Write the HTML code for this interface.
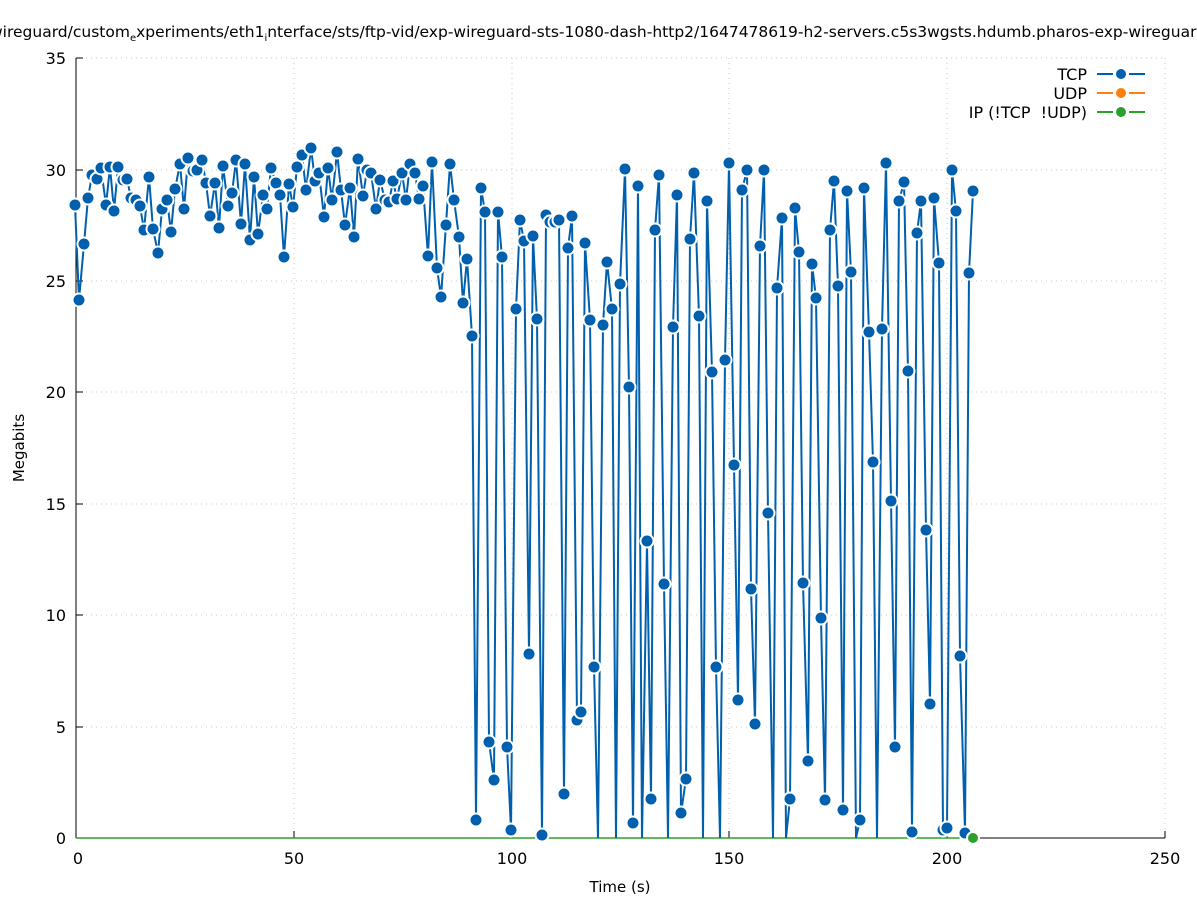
<!DOCTYPE html>
<html><head><meta charset="utf-8"><style>
html,body{margin:0;padding:0;background:#fff}
svg{display:block;font-family:"DejaVu Sans","Liberation Sans",sans-serif}
</style></head><body>
<svg id="s" width="1197" height="900" viewBox="0 0 1197 900" xmlns="http://www.w3.org/2000/svg">
<rect width="1197" height="900" fill="#fff"/>
<g stroke="#c8c8c8" stroke-width="1" stroke-dasharray="1,4">
<line x1="76" y1="727" x2="1165" y2="727"/><line x1="76" y1="615" x2="1165" y2="615"/>
<line x1="76" y1="504" x2="1165" y2="504"/><line x1="76" y1="392" x2="1165" y2="392"/>
<line x1="76" y1="281" x2="1165" y2="281"/><line x1="76" y1="170" x2="1165" y2="170"/>
<line x1="76" y1="58" x2="1165" y2="58"/><line x1="1165" y1="58" x2="1165" y2="838"/>
<line x1="294" y1="58" x2="294" y2="838"/><line x1="512" y1="58" x2="512" y2="838"/>
<line x1="729" y1="58" x2="729" y2="838"/><line x1="947" y1="58" x2="947" y2="838"/>
</g>
<g stroke="#000" stroke-width="1">
<line x1="76" y1="58" x2="76" y2="838"/><line x1="76" y1="838" x2="1165" y2="838"/>
<line x1="76" y1="727" x2="83" y2="727"/><line x1="76" y1="615" x2="83" y2="615"/><line x1="76" y1="504" x2="83" y2="504"/><line x1="76" y1="392" x2="83" y2="392"/><line x1="76" y1="281" x2="83" y2="281"/><line x1="76" y1="170" x2="83" y2="170"/><line x1="76" y1="58" x2="83" y2="58"/>
<line x1="294" y1="838" x2="294" y2="831"/><line x1="512" y1="838" x2="512" y2="831"/><line x1="729" y1="838" x2="729" y2="831"/><line x1="947" y1="838" x2="947" y2="831"/><line x1="1165" y1="838" x2="1165" y2="831"/>
</g>
<g font-size="16" fill="#000" text-anchor="end">
<text x="66" y="844">0</text><text x="66" y="733">5</text><text x="66" y="621">10</text><text x="66" y="510">15</text><text x="66" y="398">20</text><text x="66" y="287">25</text><text x="66" y="176">30</text><text x="66" y="64">35</text>
</g>
<g font-size="16" fill="#000" text-anchor="middle">
<text x="78" y="864">0</text><text x="294" y="864">50</text><text x="512" y="864">100</text><text x="729" y="864">150</text><text x="947" y="864">200</text><text x="1165" y="864">250</text>
<text x="620" y="892" font-size="15">Time (s)</text>
<text x="598" y="37" font-size="15.5">wireguard/custom<tspan font-size="10" dy="4">e</tspan><tspan dy="-4">xperiments/eth1</tspan><tspan font-size="10" dy="4">i</tspan><tspan dy="-4">nterface/sts/ftp-vid/exp-wireguard-sts-1080-dash-http2/1647478619-h2-servers.c5s3wgsts.hdumb.pharos-exp-wireguard</tspan></text>
</g>
<text transform="translate(24,448) rotate(-90)" font-size="15" text-anchor="middle">Megabits</text>
<g font-size="16" text-anchor="end">
<text x="1087" y="80">TCP</text><text x="1087" y="99">UDP</text><text x="1087" y="118">IP (!TCP &#160;!UDP)</text>
</g>
<g stroke-width="2">
<path d="M1097 74H1113M1129 74H1145" stroke="#0060ad"/><circle cx="1121" cy="74" r="6" fill="#0060ad" stroke="#fff" stroke-width="2"/>
<path d="M1097 93H1113M1129 93H1145" stroke="#ff7f0e"/><circle cx="1121" cy="93" r="6" fill="#ff7f0e" stroke="#fff" stroke-width="2"/>
<path d="M1097 112H1113M1129 112H1145" stroke="#2ca02c"/><circle cx="1121" cy="112" r="6" fill="#2ca02c" stroke="#fff" stroke-width="2"/>
</g>
<line x1="76" y1="838" x2="973" y2="838" stroke="#2ca02c" stroke-width="1.5"/>
<g id="d"></g>
<circle cx="973" cy="838" r="6" fill="#2ca02c" stroke="#fff" stroke-width="2"/>
</svg>
<script>
var p=[75,205,79,300,84,244,88,198,92,175,97,179,101,168,106,205,110,167,114,211,118,167,123,180,127,179,131,198,136,200,140,206,144,230,149,177,153,229,158,253,162,209,167,200,171,232,175,189,180,164,184,209,188,158,193,171,197,170,202,160,206,183,210,216,215,183,219,228,223,166,228,206,232,193,236,160,241,224,245,164,250,240,254,177,258,234,263,195,267,209,271,168,276,183,280,195,284,257,289,184,293,207,297,167,302,155,306,190,311,148,315,181,319,173,324,217,328,168,332,200,337,152,341,190,345,225,350,188,354,237,358,159,363,196,367,170,371,173,376,209,380,180,385,200,389,202,393,181,397,199,402,173,406,200,410,164,415,173,419,199,423,186,428,256,432,162,437,268,441,297,446,225,450,164,454,200,459,237,463,303,467,259,472,336,476,820,481,188,485,212,489,742,494,780,498,212,502,257,507,747,511,830,516,309,520,220,524,241,529,654,533,236,537,319,542,835,546,215,550,222,555,222,559,220,564,794,568,248,572,216,577,720,581,712,585,243,590,320,594,667,598,838,603,325,607,262,612,309,616,838,620,284,625,169,629,387,633,823,638,186,642,838,647,541,651,799,655,230,659,175,664,584,668,838,673,327,677,195,681,813,686,779,690,239,694,173,699,316,703,838,707,201,712,372,716,667,720,838,725,360,729,163,734,465,738,700,742,190,747,170,751,589,755,724,760,246,764,170,768,513,773,838,777,288,782,218,786,838,790,799,795,208,799,252,803,583,808,761,812,264,816,298,821,618,825,800,830,230,834,181,838,286,843,810,847,191,851,272,856,838,860,820,864,188,869,332,873,462,877,838,882,329,886,163,891,501,895,747,899,201,904,182,908,371,912,832,917,233,921,201,926,530,930,704,934,198,939,263,943,830,947,828,952,170,956,211,960,656,965,833,969,273,973,191];
var ns="http://www.w3.org/2000/svg",g=document.getElementById('d'),pts=[];
for(var i=0;i<p.length;i+=2)pts.push(p[i]+','+p[i+1]);
var pl=document.createElementNS(ns,'polyline');pl.setAttribute('points',pts.join(' '));pl.setAttribute('fill','none');pl.setAttribute('stroke','#0060ad');pl.setAttribute('stroke-width','2');g.appendChild(pl);
for(var i=0;i<p.length;i+=2){if(p[i+1]>=836)continue;var c=document.createElementNS(ns,'circle');c.setAttribute('cx',p[i]);c.setAttribute('cy',p[i+1]);c.setAttribute('r','6.5');c.setAttribute('fill','#0060ad');c.setAttribute('stroke','#fff');c.setAttribute('stroke-width','2');g.appendChild(c);}
</script>
</body></html>
